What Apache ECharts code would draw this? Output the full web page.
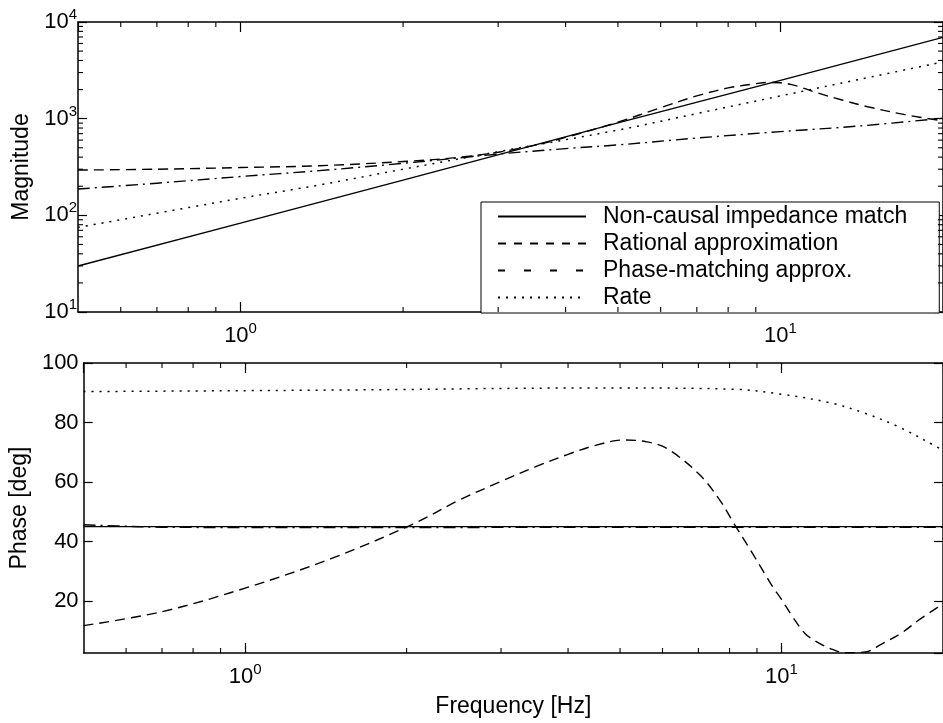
<!DOCTYPE html>
<html>
<head>
<meta charset="utf-8">
<script src="https://cdn.jsdelivr.net/npm/echarts@6/dist/echarts.min.js"></script>
<style>
html,body{margin:0;padding:0;background:#fff;}
#chart{width:943px;height:723px;}
</style>
</head>
<body>
<div id="chart"></div>
<script>
// ---- Data ----
const seriesNames = ['Non-causal impedance match', 'Rational approximation', 'Phase-matching approx.', 'Rate'];

// Magnitude
const solidMagF = [0.5, 1, 2, 5, 10, 20];
const solidMag  = [29.9, 83, 231, 905, 2490, 6940];

const ratMagF = [0.5, 0.7, 1, 1.4, 2, 2.5, 3, 3.5, 4, 5, 6, 7, 8, 9, 9.5, 10, 10.5, 11, 11.7, 13, 14.5, 17, 20];
const ratMag  = [294, 300, 312, 326, 360, 395, 450, 530, 640, 920, 1300, 1720, 2080, 2300, 2370, 2350, 2250, 2080, 1850, 1560, 1330, 1100, 950];

const pmMagF = [0.5, 0.7, 1, 1.4, 2, 3, 4, 5, 7, 10, 14, 20];
const pmMag  = [187, 215, 252, 290, 345, 430, 490, 535, 630, 735, 840, 1010];

const rateMagF = [0.5, 1, 1.4, 2, 3, 5, 7, 10, 14, 20];
const rateMag  = [75, 150, 206, 300, 455, 762, 1130, 1720, 2550, 3860];

// Phase
const solidPhF = [0.5, 20];
const solidPh  = [45, 45];

const ratPhF = [0.5, 0.7, 1, 1.45, 2.07, 2.5, 3.01, 3.5, 4.0, 4.5, 5.08, 5.6, 6.11, 7.04, 7.7, 8.11, 8.83, 9.34, 9.61, 10.0, 10.46, 11.07, 11.7, 12.4, 13.1, 14.0, 14.5, 15.3, 16.7, 18, 20];
const ratPh  = [11.7, 16.4, 24.3, 34.3, 46.1, 53.8, 60.3, 65.3, 69.3, 72.3, 74.1, 73.5, 71.3, 62.4, 53.5, 46.7, 36.0, 28.7, 25.0, 20.5, 15.0, 9.0, 6.0, 3.8, 2.6, 2.7, 3.0, 5.3, 9.1, 13.5, 19];

const pmPhF = [0.5, 0.58, 0.7, 1, 20];
const pmPh  = [45.6, 45.2, 44.8, 44.7, 44.8];

const ratePhF = [0.5, 1, 2, 3.25, 5, 8.1, 10, 12.4, 14.3, 16.5, 19.7, 20];
const ratePh  = [90.4, 90.7, 91.1, 91.5, 91.6, 91.2, 89.5, 86.5, 83.1, 78.6, 71.3, 70.5];

// Axis tick values
const minorXTicks = [0.6, 0.7, 0.8, 0.9, 2, 3, 4, 5, 6, 7, 8, 9];
const minorYTicksMag = [20, 30, 40, 50, 60, 70, 80, 90, 200, 300, 400, 500, 600, 700, 800, 900, 2000, 3000, 4000, 5000, 6000, 7000, 8000, 9000];

// ---- Chart ----
const FONT = '"Liberation Sans", Arial, Helvetica, sans-serif';
const zip = (a, b) => a.map((v, i) => [v, b[i]]);
const styles = [
  { type: 'solid', width: 1.4 },
  { type: [10, 6], width: 1.4 },
  { type: [12, 5, 2, 5], width: 1.4 },
  { type: [2, 6], width: 1.5 }
];

const powLabel = v => {
  const l = Math.log10(v);
  const e = Math.round(l);
  if (Math.abs(l - e) > 1e-6) return '';
  return '{b|10}{s|' + e + '}';
};
const rich = {
  b: { fontSize: 22, fontFamily: FONT, color: '#000' },
  s: { fontSize: 15, fontFamily: FONT, color: '#000', padding: [0, 0, 14, 0] }
};
const axisLine = { show: true, lineStyle: { color: '#000', width: 1.5 } };
const tick = len => ({ show: true, inside: true, length: len, lineStyle: { color: '#000', width: 1.2 } });
const nameStyle = { fontSize: 23, fontFamily: FONT, color: '#000' };

const grids = [
  { left: 78, top: 22, width: 868, height: 290 },
  { left: 78, top: 363, width: 868, height: 290 }
];

function xAxes(gi, withName) {
  return [
    {
      type: 'log', logBase: 10, gridIndex: gi, min: 0.5, max: 20, position: 'bottom',
      axisLine, axisTick: tick(10), splitLine: { show: false }, minorTick: { show: false },
      axisLabel: { formatter: powLabel, rich, margin: 9, showMinLabel: false, showMaxLabel: false },
      name: withName ? 'Frequency [Hz]' : '', nameLocation: 'middle', nameGap: 42,
      nameTextStyle: nameStyle
    },
    {
      type: 'log', logBase: 10, gridIndex: gi, min: 0.5, max: 20, position: 'top',
      axisLine, axisTick: tick(10), splitLine: { show: false }, axisLabel: { show: false }
    }
  ];
}

const yAxis = [
  {
    type: 'log', logBase: 10, gridIndex: 0, min: 10, max: 10000, position: 'left',
    axisLine, axisTick: tick(9), splitLine: { show: false },
    axisLabel: { formatter: powLabel, rich, margin: 1 },
    name: 'Magnitude', nameLocation: 'middle', nameGap: 40,
    nameTextStyle: nameStyle
  },
  {
    type: 'log', logBase: 10, gridIndex: 0, min: 10, max: 10000, position: 'right',
    axisLine, axisTick: tick(9), splitLine: { show: false }, axisLabel: { show: false }
  },
  {
    type: 'value', gridIndex: 1, min: 2.5, max: 100, splitNumber: 5, position: 'left',
    axisLine, axisTick: tick(9), splitLine: { show: false },
    axisLabel: {
      formatter: v => (Math.abs(v % 20) < 1e-9 ? String(v) : ''),
      fontSize: 22, fontFamily: FONT, color: '#000', margin: 5, showMinLabel: false
    },
    name: 'Phase [deg]', nameLocation: 'middle', nameGap: 42,
    nameTextStyle: nameStyle
  },
  {
    type: 'value', gridIndex: 1, min: 2.5, max: 100, splitNumber: 5, position: 'right',
    axisLine, axisTick: tick(9), splitLine: { show: false }, axisLabel: { show: false }
  }
];

function minorRenderer(dir, len) {
  return function (params, api) {
    const cs = params.coordSys;
    const p = api.coord([api.value(0), api.value(1)]);
    const st = { stroke: '#000', lineWidth: 1.1 };
    if (dir === 'x') {
      const yb = cs.y + cs.height, yt = cs.y;
      return { type: 'group', children: [
        { type: 'line', shape: { x1: p[0], y1: yb, x2: p[0], y2: yb - len }, style: st },
        { type: 'line', shape: { x1: p[0], y1: yt, x2: p[0], y2: yt + len }, style: st }
      ] };
    }
    const xl = cs.x, xr = cs.x + cs.width;
    return { type: 'group', children: [
      { type: 'line', shape: { x1: xl, y1: p[1], x2: xl + len, y2: p[1] }, style: st },
      { type: 'line', shape: { x1: xr, y1: p[1], x2: xr - len, y2: p[1] }, style: st }
    ] };
  };
}

const magData = [zip(solidMagF, solidMag), zip(ratMagF, ratMag), zip(pmMagF, pmMag), zip(rateMagF, rateMag)];
const phData = [zip(solidPhF, solidPh), zip(ratPhF, ratPh), zip(pmPhF, pmPh), zip(ratePhF, ratePh)];

const series = [];
seriesNames.forEach((name, i) => {
  series.push({
    name, type: 'line', xAxisIndex: 0, yAxisIndex: 0, data: magData[i],
    symbol: 'none', smooth: i === 0 ? false : 0.35, lineStyle: Object.assign({ color: '#000' }, styles[i]),
    itemStyle: { color: '#000' }, silent: true, z: 3
  });
});
seriesNames.forEach((name, i) => {
  series.push({
    name, type: 'line', xAxisIndex: 2, yAxisIndex: 2, data: phData[i],
    symbol: 'none', smooth: i === 0 ? false : 0.35, lineStyle: Object.assign({ color: '#000' }, styles[i]),
    itemStyle: { color: '#000' }, silent: true, z: 3
  });
});
series.push({
  type: 'custom', name: 'minorX0', xAxisIndex: 0, yAxisIndex: 0, silent: true, z: 5,
  renderItem: minorRenderer('x', 5), data: minorXTicks.map(v => [v, 100])
});
series.push({
  type: 'custom', name: 'minorX1', xAxisIndex: 2, yAxisIndex: 2, silent: true, z: 5,
  renderItem: minorRenderer('x', 5), data: minorXTicks.map(v => [v, 50])
});
series.push({
  type: 'custom', name: 'minorY0', xAxisIndex: 0, yAxisIndex: 0, silent: true, z: 5,
  renderItem: minorRenderer('y', 5), data: minorYTicksMag.map(v => [1, v])
});

const chart = echarts.init(document.getElementById('chart'), null, { renderer: 'canvas' });
chart.setOption({
  animation: false,
  backgroundColor: '#fff',
  textStyle: { fontFamily: FONT, color: '#000' },
  grid: grids,
  xAxis: [...xAxes(0, false), ...xAxes(1, true)],
  yAxis,
  legend: {
    orient: 'vertical', left: 481, top: 202,
    itemWidth: 88, itemHeight: 14, itemGap: 4,
    padding: [3, 32, 4, 16],
    backgroundColor: '#fff', borderColor: '#000', borderWidth: 1, borderRadius: 0,
    itemStyle: { opacity: 0 },
    textStyle: { fontSize: 23, fontFamily: FONT, color: '#000', padding: [0, 0, 0, 12], lineHeight: 22 },
    selectedMode: false,
    data: [
      { name: seriesNames[0] },
      { name: seriesNames[1], lineStyle: { type: [8, 8] } },
      { name: seriesNames[2], lineStyle: { type: [7, 19] } },
      { name: seriesNames[3] }
    ]
  },
  series
});
</script>
</body>
</html>
